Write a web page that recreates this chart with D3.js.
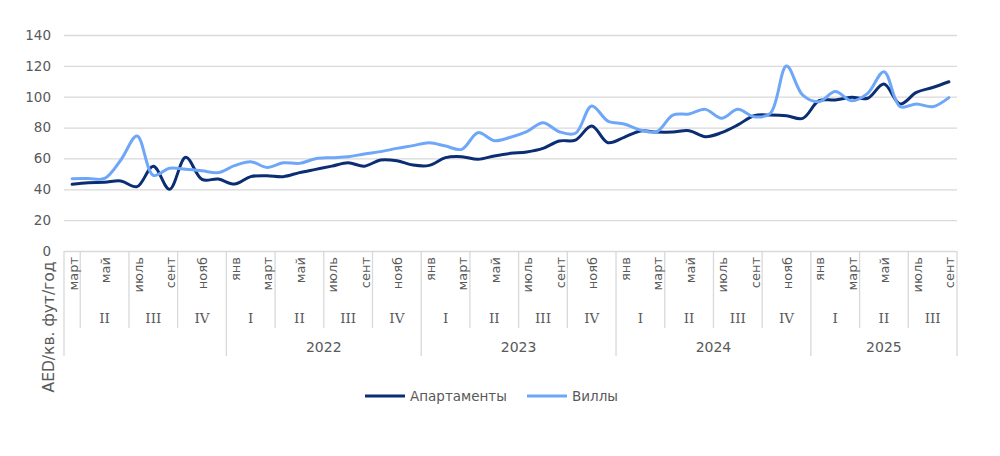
<!DOCTYPE html>
<html>
<head>
<meta charset="utf-8">
<script src="https://cdn.jsdelivr.net/npm/d3@7/dist/d3.min.js"></script>
<style>
  body { margin: 0; background: #fff; }
  text { font-family: "DejaVu Sans", Verdana, sans-serif; fill: #595959; }
</style>
</head>
<body>
<div id="chart"></div>
<script>
// categories: months from March 2021 to September 2025
var monthCats = [
  "март","апр","май","июнь","июль","авг","сент","окт","нояб","дек",
  "янв","фев","март","апр","май","июнь","июль","авг","сент","окт","нояб","дек",
  "янв","фев","март","апр","май","июнь","июль","авг","сент","окт","нояб","дек",
  "янв","фев","март","апр","май","июнь","июль","авг","сент","окт","нояб","дек",
  "янв","фев","март","апр","май","июнь","июль","авг","сент"
];
var monthNames = ["янв","фев","март","апр","май","июнь","июль","авг","сент","окт","нояб","дек"];
var quarterNames = ["I","II","III","IV"];
var yearLabels = ["", "2022", "2023", "2024", "2025"];
var yTicks = [0, 20, 40, 60, 80, 100, 120, 140];

var apartments = [43.2, 44.3, 44.5, 45.4, 41.7, 55, 40, 60.7, 46.4, 46.6,
  43.4, 48.2, 48.8, 48.2, 50.8, 52.9, 55, 57.2, 55, 59, 58.5, 55.7,
  55.5, 60.5, 61.1, 59.4, 61.6, 63.3, 64.2, 66.5, 71.3, 71.9, 81, 70.2,
  73.7, 77.8, 77.1, 77.1, 78, 74.1, 76.7, 81.7, 87.7, 88.1, 87.7, 86,
  97.4, 97.9, 99.6, 99, 108.2, 95.3, 102.8, 106, 109.7];
var villas = [46.9, 47, 47, 59, 74.5, 49, 53.6, 53, 52, 50.8,
  55.3, 57.9, 54.2, 57.2, 56.8, 59.8, 60.5, 61.1, 62.9, 64.4, 66.5, 68.3,
  70.2, 68, 65.9, 76.7, 71.5, 73.7, 77.3, 83.2, 77.3, 76.3, 94, 84.2,
  82.3, 78.4, 77.3, 88.1, 88.8, 91.8, 86, 91.8, 87, 89.2, 119.9, 101,
  96.8, 103.3, 97.4, 102.2, 116.2, 93.5, 95.3, 93.5, 99.4];

var seriesNames = ["Апартаменты", "Виллы"];
var seriesColors = ["#0a2d73", "#6fa7f8"];

gen_chart();

function gen_chart() {
  var w = 1000, h = 456;
  var plotL = 64, plotR = 957, plotT = 35, plotB = 251;
  var rowQ = 328, rowY = 356;

  var svg = d3.select("#chart").append("svg")
      .attr("width", w)
      .attr("height", h);

  var xScale = d3.scaleBand()
      .domain(d3.range(monthCats.length))
      .range([plotL, plotR]);
  var step = xScale.bandwidth();
  function cx(i) { return xScale(i) + step / 2; }

  var yScale = d3.scaleLinear()
      .domain([0, 140])
      .range([plotB, plotT]);

  // gridlines
  svg.append("g")
      .attr("transform", "translate(" + plotL + ",0)")
      .call(d3.axisLeft(yScale).tickValues(yTicks).tickSize(-(plotR - plotL)).tickFormat(""))
      .call(function (g) {
        g.select(".domain").remove();
        g.selectAll("line").attr("stroke", "#d9d9d9").attr("stroke-width", 1.3);
      });

  // y tick labels
  svg.append("g")
      .attr("transform", "translate(" + plotL + ",0)")
      .call(d3.axisLeft(yScale).tickValues(yTicks).tickSize(0).tickPadding(13))
      .call(function (g) {
        g.select(".domain").remove();
        g.selectAll("text")
          .style("font-size", "13.5px")
          .style("font-family", "'DejaVu Sans', Verdana, sans-serif")
          .attr("fill", "#595959");
      });

  // y title
  svg.append("text")
      .attr("transform", "translate(53.5,327) rotate(-90)")
      .attr("text-anchor", "middle")
      .style("font-size", "15.5px")
      .text("AED/кв. фут/год");

  // category separators
  var sep = svg.append("g").attr("stroke", "#d9d9d9").attr("stroke-width", 1.3);
  monthCats.forEach(function (m, i) {
    var mi = monthNames.indexOf(m);
    var yearStart = (i === 0 || mi === 0);
    var qStart = (mi % 3 === 0);
    if (yearStart || qStart) {
      sep.append("line")
        .attr("x1", xScale(i)).attr("x2", xScale(i))
        .attr("y1", plotB).attr("y2", yearStart ? rowY : rowQ);
    }
  });
  sep.append("line")
    .attr("x1", plotR).attr("x2", plotR)
    .attr("y1", plotB).attr("y2", rowY);

  // month labels (every second one)
  svg.append("g").selectAll("text")
      .data(monthCats)
      .enter().filter(function (d, i) { return i % 2 === 0; })
      .append("text")
      .attr("transform", function (d, i) { return "translate(" + cx(i * 2) + ",257) rotate(-90)"; })
      .attr("text-anchor", "end")
      .attr("dy", "0.42em")
      .style("font-size", "13px")
      .text(function (d) { return d; });

  // quarter and year groups
  var qGroups = [], yGroups = [];
  var yi = 0;
  monthCats.forEach(function (m, i) {
    var mi = monthNames.indexOf(m);
    var q = Math.floor(mi / 3);
    if (i > 0 && mi === 0) yi++;
    var lastQ = qGroups[qGroups.length - 1];
    if (!lastQ || lastQ.q !== q || lastQ.y !== yi) qGroups.push({q: q, y: yi, start: i, n: 1});
    else lastQ.n++;
    var lastY = yGroups[yGroups.length - 1];
    if (!lastY || lastY.y !== yi) yGroups.push({y: yi, start: i, n: 1});
    else lastY.n++;
  });

  svg.append("g").selectAll("text")
      .data(qGroups.filter(function (g) { return g.n > 1; }))
      .enter().append("text")
      .attr("x", function (g) { return xScale(g.start) + g.n * step / 2; })
      .attr("y", 323)
      .attr("text-anchor", "middle")
      .style("font-family", "'DejaVu Serif', serif")
      .style("font-size", "13.5px")
      .text(function (g) { return quarterNames[g.q]; });

  svg.append("g").selectAll("text")
      .data(yGroups)
      .enter().append("text")
      .attr("x", function (g) { return xScale(g.start) + g.n * step / 2; })
      .attr("y", 352)
      .attr("text-anchor", "middle")
      .style("font-size", "14px")
      .text(function (g) { return yearLabels[g.y]; });

  // lines
  var line = d3.line()
      .x(function (d, i) { return cx(i); })
      .y(function (d) { return yScale(d); })
      .curve(d3.curveCatmullRom.alpha(0.5));

  [apartments, villas].forEach(function (s, k) {
    svg.append("path")
      .datum(s)
      .attr("fill", "none")
      .attr("stroke", seriesColors[k])
      .attr("stroke-width", 3)
      .attr("stroke-linejoin", "round")
      .attr("stroke-linecap", "round")
      .attr("d", line);
  });

  // legend
  var legendX = [365, 527];
  var lg = svg.append("g");
  seriesNames.forEach(function (name, k) {
    lg.append("line")
      .attr("x1", legendX[k]).attr("x2", legendX[k] + 40)
      .attr("y1", 396).attr("y2", 396)
      .attr("stroke", seriesColors[k])
      .attr("stroke-width", 3);
    lg.append("text")
      .attr("x", legendX[k] + 45)
      .attr("y", 396)
      .attr("dy", "0.35em")
      .style("font-size", "13.5px")
      .text(name);
  });
}
</script>
</body>
</html>
